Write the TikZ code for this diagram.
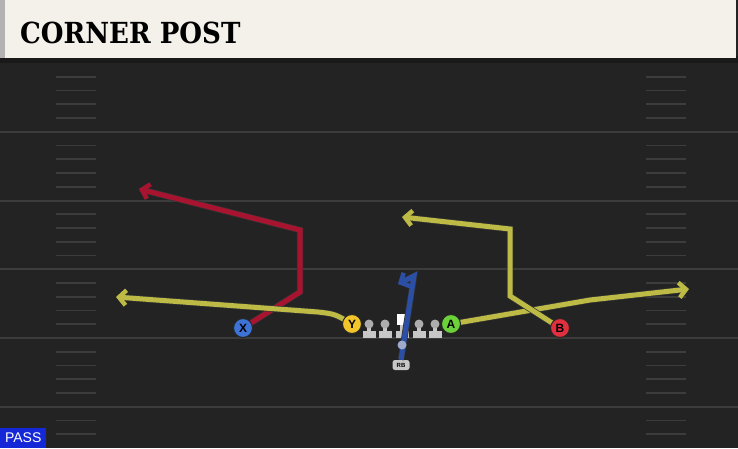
\documentclass[tikz,border=0pt]{standalone}
\usepackage{fontspec}
\setsansfont{Liberation Sans}
\newfontfamily\titlefont{DejaVu Serif Condensed}
\usetikzlibrary{arrows.meta}
\definecolor{field}{HTML}{232323}
\definecolor{yardline}{HTML}{3C3C3C}
\definecolor{header}{HTML}{F4F1EA}
\definecolor{routered}{HTML}{A8142F}
\definecolor{routeyel}{HTML}{BDBB45}
\definecolor{routeblue}{HTML}{2C4FA6}
\definecolor{plblue}{HTML}{3D72D6}
\definecolor{plyel}{HTML}{F2C52A}
\definecolor{plgreen}{HTML}{6CD23A}
\definecolor{plred}{HTML}{E0303E}
\definecolor{passblue}{HTML}{1428D8}
\begin{document}
\begin{tikzpicture}[x=1pt,y=-1pt,
  player/.style={circle, draw=black!85, line width=1pt, minimum size=19pt, inner sep=0pt, font=\sffamily\bfseries\fontsize{12}{12}\selectfont},
  route/.style={line width=5pt, line join=miter, preaction={draw=black!80, line width=6.4pt}},
  tip/.style={-{Straight Barb[length=7pt,width=15pt,line width=4.4pt]}},
  lineman/.style={fill=black!22},
  hash/.style={draw=yardline, line width=1.6pt}]
\useasboundingbox (0,0) rectangle (738,448);
\fill[field] (0,0) rectangle (738,448);
% header
\fill[black!90] (0,56) rectangle (738,63);
\fill[header] (0,0) rectangle (736,58);
\fill[black!30] (0,0) rectangle (5,58);
\node[anchor=base west, font=\titlefont\bfseries\fontsize{29}{29}\selectfont, inner sep=0pt] (title) at (20,43) {CORNER POST};
% yard lines and hash marks
\foreach \y in {132,201,269,338,407}
  \draw[yardline, line width=1.8pt] (0,\y) -- (738,\y);
\foreach \k in {1,...,27}{
  \pgfmathtruncatemacro{\r}{mod(\k,5)}
  \ifnum\r>0
    \draw[hash] (56,63+\k*13.75) -- (96,63+\k*13.75);
    \draw[hash] (646,63+\k*13.75) -- (686,63+\k*13.75);
  \fi}
% route break points
\coordinate (x1) at (300,292);
\coordinate (x2) at (300,230);
\coordinate (x3) at (139,189);
\coordinate (y1) at (318,312);
\coordinate (y2) at (116,297);
\coordinate (a1) at (590,300);
\coordinate (a2) at (689,289);
\coordinate (b1) at (510,296);
\coordinate (b2) at (510,229);
\coordinate (b3) at (402,217);
\coordinate (r1) at (414,276);
\coordinate (r2) at (398,284);
% linemen
\foreach \n/\x in {lt/369,lg/385,rg/419,rt/435}{
  \fill[lineman] (\x-6.5,330.5) rectangle (\x+6.5,337.5);
  \fill[lineman] (\x-2,325) rectangle (\x+2,332);
  \node[circle, fill=black!32, minimum size=9pt, inner sep=0pt] (\n) at (\x,324) {};
}
\fill[lineman] (395.5,330.5) rectangle (408.5,337.5);
\fill[lineman] (400,322) rectangle (404,332);
\node[fill=white, minimum size=11pt, inner sep=0pt] (c) at (402,319) {};
% rb
\node[fill=black!22, rounded corners=2.5pt, minimum width=17pt, minimum height=10pt, inner sep=0pt, font=\sffamily\bfseries\fontsize{6}{6}\selectfont] (rb) at (401,365) {RB};
% routes
\draw[route, routeblue, tip] (rb.north) -- (r1) -- (r2);
\draw[route, routered, tip] (243,328) -- (x1) -- (x2) -- (x3);
\draw[route, routeyel, tip] (352,324) .. controls (335,314) .. (y1) -- (y2);
\draw[route, routeyel, tip] (451,324) -- (a1) -- (a2);
\draw[route, routeyel, tip] (560,328) -- (b1) -- (b2) -- (b3);
\node[circle, fill=black!15!routeblue!45!white, minimum size=9pt, inner sep=0pt] (rbdot) at (402,345) {};
% players
\node[player, fill=plblue] (X) at (243,328) {X};
\node[player, fill=plyel] (Y) at (352,324) {Y};
\node[player, fill=plgreen] (A) at (451,324) {A};
\node[player, fill=plred] (B) at (560,328) {B};
% pass tag
\node[fill=passblue, text=white, anchor=south west, minimum width=46pt, minimum height=20pt, inner sep=0pt, font=\sffamily\fontsize{14}{14}\selectfont] (pass) at (0,448) {PASS};
\end{tikzpicture}
\end{document}
